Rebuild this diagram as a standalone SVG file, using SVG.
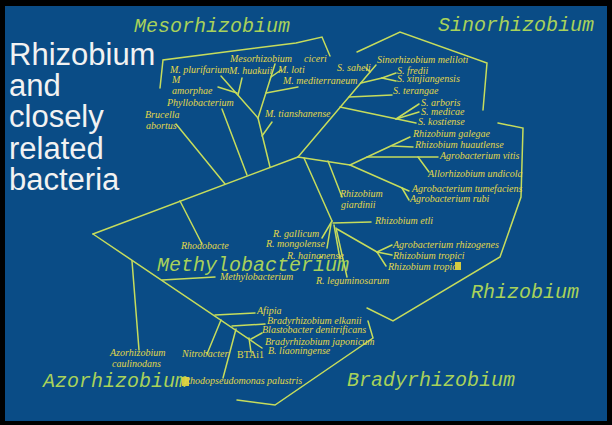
<svg xmlns="http://www.w3.org/2000/svg" width="612" height="425" viewBox="0 0 612 425">
<style>
.bg{fill:#0a4c86}
.c line,.c polyline{stroke:#c6dc5c;stroke-width:1.5;fill:none;stroke-linecap:round}
.t{font-family:"Liberation Sans",Arial,sans-serif;font-size:31px;fill:#f2f2f2}
.g{font-family:"Liberation Mono","Courier New",monospace;font-style:italic;font-size:20px;fill:#a8d25a}
.l{font-family:"Liberation Serif","Times New Roman",serif;font-style:italic;font-size:10px;fill:#e2d84a}
.u{font-family:"Liberation Serif","Times New Roman",serif;font-size:10px;fill:#e2d84a}
.box{fill:#d6cc3e}
</style>
<rect x="0" y="0" width="612" height="425" fill="#000"/>
<rect class="bg" x="5" y="6" width="602" height="415"/>
<g id="title">
<text class="t" x="9" y="65">Rhizobium</text>
<text class="t" x="9" y="96">and</text>
<text class="t" x="9" y="127">closely</text>
<text class="t" x="9" y="159">related</text>
<text class="t" x="9" y="190">bacteria</text>
</g>
<g class="c" id="connectors">
<polyline points="160,88 163,60 296,43 322,37 330,56"/>
<polyline points="357,52 400,32 487,63 483,110"/>
<polyline points="498,123 523,128 521,197 500,257 393,321 367,308"/>
<polyline points="237,400 275,405 373,338 368,321"/>
<line x1="93" y1="234" x2="298" y2="157"/>
<line x1="93" y1="234" x2="262" y2="348"/>
<line x1="180" y1="201" x2="202" y2="244"/>
<line x1="176" y1="124" x2="225" y2="184"/>
<line x1="222" y1="109" x2="247" y2="175"/>
<line x1="270" y1="167" x2="258" y2="118"/>
<line x1="262" y1="136" x2="272" y2="122"/>
<line x1="258" y1="118" x2="221" y2="76"/>
<line x1="238" y1="95" x2="242" y2="78"/>
<line x1="218" y1="87" x2="237" y2="93"/>
<line x1="258" y1="118" x2="275" y2="64"/>
<line x1="266" y1="93" x2="298" y2="87"/>
<line x1="271" y1="77" x2="281" y2="70"/>
<line x1="298" y1="157" x2="376" y2="65"/>
<line x1="370" y1="72" x2="366" y2="68"/>
<line x1="361" y1="83" x2="382" y2="78"/>
<line x1="382" y1="78" x2="396" y2="73"/>
<line x1="382" y1="78" x2="396" y2="81"/>
<line x1="349" y1="97" x2="392" y2="95"/>
<line x1="340" y1="107" x2="416" y2="123"/>
<line x1="396" y1="119" x2="419" y2="104"/>
<line x1="396" y1="119" x2="419" y2="112"/>
<line x1="298" y1="157" x2="350" y2="165"/>
<line x1="350" y1="165" x2="410" y2="137"/>
<line x1="392" y1="146" x2="413" y2="147"/>
<line x1="367" y1="157" x2="438" y2="157"/>
<line x1="418" y1="157" x2="429" y2="172"/>
<line x1="350" y1="165" x2="409" y2="191"/>
<line x1="402" y1="188" x2="409" y2="200"/>
<line x1="328" y1="161" x2="342" y2="197"/>
<line x1="304" y1="158" x2="332" y2="221"/>
<line x1="333" y1="223" x2="371" y2="222"/>
<line x1="332" y1="221" x2="322" y2="238"/>
<line x1="331" y1="224" x2="327" y2="248"/>
<line x1="334" y1="225" x2="340" y2="259"/>
<line x1="336" y1="228" x2="347" y2="277"/>
<line x1="337" y1="229" x2="377" y2="252"/>
<line x1="377" y1="252" x2="392" y2="245"/>
<line x1="377" y1="252" x2="392" y2="255"/>
<line x1="377" y1="252" x2="386" y2="266"/>
<line x1="215" y1="315" x2="255" y2="313"/>
<line x1="221" y1="320" x2="207" y2="354"/>
<line x1="232" y1="326" x2="265" y2="324"/>
<line x1="251" y1="339" x2="262" y2="333"/>
<line x1="236" y1="329" x2="223" y2="378"/>
<line x1="249" y1="338" x2="251" y2="352"/>
<line x1="132" y1="261" x2="139" y2="350"/>
<line x1="162" y1="280" x2="215" y2="277"/>
</g>
<g id="groups">
<text class="g" x="134" y="32">Mesorhizobium</text>
<text class="g" x="438" y="31">Sinorhizobium</text>
<text class="g" x="471" y="298">Rhizobium</text>
<text class="g" x="157" y="271">Methylobacterium</text>
<text class="g" x="43" y="387">Azorhizobium</text>
<text class="g" x="347" y="386">Bradyrhizobium</text>
</g>
<g id="mesorhizobium">
<text class="l" x="230" y="62">Mesorhizobium<tspan dx="12">ciceri</tspan></text>
<text class="l" x="170" y="73">M. plurifarium</text>
<text class="l" x="229" y="74">M. huakuii</text>
<text class="l" x="278" y="73">M. loti</text>
<text class="l" x="283" y="84">M. mediterraneum</text>
<text class="l" x="172" y="83">M</text>
<text class="l" x="172" y="94">amorphae</text>
<text class="l" x="167" y="106">Phyllobacterium</text>
<text class="l" x="145" y="118">Brucella</text>
<text class="l" x="146" y="129">abortus</text>
<text class="l" x="265" y="117">M. tianshanense</text>
</g>
<g id="sinorhizobium">
<text class="l" x="377" y="63">Sinorhizobium meliloti</text>
<text class="l" x="337" y="71">S. saheli</text>
<text class="l" x="397" y="74">S. fredii</text>
<text class="l" x="397" y="82">S. xinjiangensis</text>
<text class="l" x="393" y="94">S. terangae</text>
<text class="l" x="421" y="106">S. arboris</text>
<text class="l" x="421" y="115">S. medicae</text>
<text class="l" x="418" y="125">S. kostiense</text>
</g>
<g id="rhizobium">
<text class="l" x="413" y="137">Rhizobium galegae</text>
<text class="l" x="415" y="148">Rhizobium huautlense</text>
<text class="l" x="440" y="159">Agrobacterium vitis</text>
<text class="l" x="428" y="177">Allorhizobium undicola</text>
<text class="l" x="412" y="192">Agrobacterium tumefaciens</text>
<text class="l" x="410" y="202">Agrobacterium rubi</text>
<text class="l" x="340" y="197">Rhizobium</text>
<text class="l" x="341" y="208">giardinii</text>
<text class="l" x="375" y="224">Rhizobium etli</text>
<text class="l" x="273" y="237">R. gallicum</text>
<text class="l" x="266" y="247">R. mongolense</text>
<text class="l" x="287" y="259">R. hainanense</text>
<text class="l" x="316" y="284">R. leguminosarum</text>
<text class="l" x="393" y="248">Agrobacterium rhizogenes</text>
<text class="l" x="393" y="259">Rhizobium tropici</text>
<text class="l" x="388" y="270">Rhizobium tropici</text>
<rect class="box" x="455" y="262" width="6" height="8"/>
</g>
<g id="others">
<text class="l" x="181" y="249">Rhodobacte</text>
<text class="l" x="220" y="280">Methylobacterium</text>
<text class="l" x="110" y="356">Azorhizobium</text>
<text class="l" x="112" y="367">caulinodans</text>
</g>
<g id="bradyrhizobium">
<text class="l" x="257" y="314">Afipia</text>
<text class="l" x="267" y="324">Bradyrhizobium elkanii</text>
<text class="l" x="262" y="333">Blastobacter denitrificans</text>
<text class="l" x="265" y="345">Bradyrhizobium japonicum</text>
<text class="l" x="268" y="354">B. liaoningense</text>
<text class="l" x="182" y="357">Nitrobacter</text>
<text class="u" x="237" y="358">BTAi1</text>
<rect class="box" x="182" y="377" width="7" height="9"/>
<text class="l" x="184" y="384">Rhodopseudomonas palustris</text>
</g>
</svg>
